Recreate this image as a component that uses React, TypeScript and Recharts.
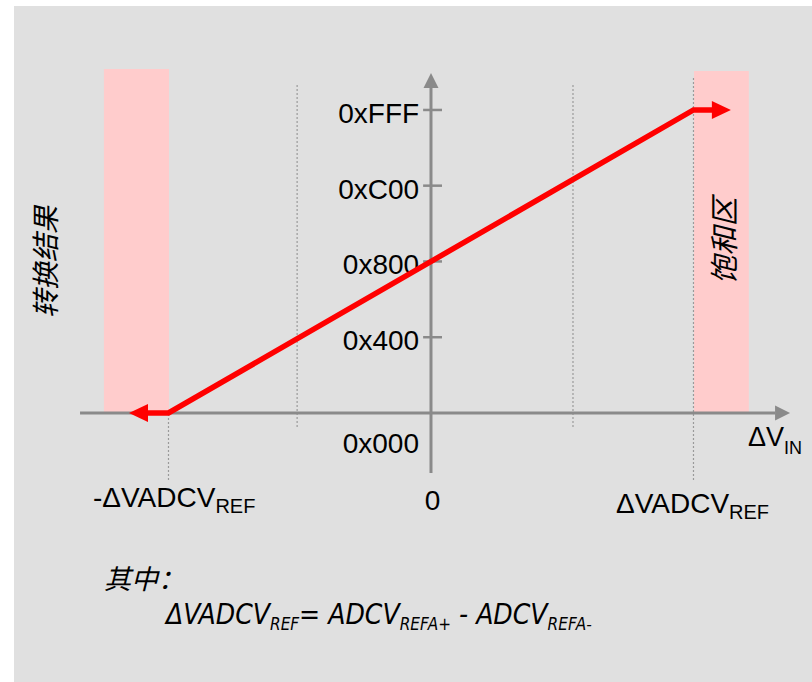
import { ComposedChart, XAxis, YAxis, Line, ReferenceArea, ReferenceLine, ReferenceDot } from "recharts";

// input voltage in units of ΔVADCV_REF, output code 0..0xFFF
const transfer = [
  { v: -1.082, code: 0 },
  { v: -1, code: 0 },
  { v: 1, code: 4095 },
  { v: 1.074, code: 4095 },
];

const satBands = [
  { from: -1.246, to: -0.998, top: 4650 },
  { from: 1.002, to: 1.211, top: 4620 },
];

const yTicks = [1024, 2048, 3072, 4095];
const yTickLabels = ["0x400", "0x800", "0xC00", "0xFFF"];

const xTicks = [-1, 0, 1];
const xTickMain = ["-ΔVADCV", "0", "ΔVADCV"];
const xTickSub = ["REF", "", "REF"];

// dotted guide lines: x, bottom code, top code
const guides = [
  { x: -1, y1: -905, y2: 0 },
  { x: -0.51, y1: -189, y2: 4459 },
  { x: 0.541, y1: -189, y2: 4459 },
  { x: 1, y1: -905, y2: 4527 },
];

// formula pieces: text, subscript?
const formula = [
  { t: "ΔVADCV", sub: false },
  { t: "REF", sub: true },
  { t: "= ADCV", sub: false },
  { t: "REFA+", sub: true },
  { t: " - ADCV", sub: false },
  { t: "REFA-", sub: true },
];

const AXIS = "#8a8a8a";
const RED = "#ff0000";
const SANS = "'Liberation Sans', Arial, sans-serif";
const CJK = "'Noto Sans CJK SC', sans-serif";
const NARROW = "'Liberation Sans Narrow', 'DejaVu Sans Condensed', sans-serif";

const ArrowLine = (p: any) => {
  const { x1, y1, x2, y2, stroke } = p;
  const dx = x2 - x1;
  const dy = y2 - y1;
  const len = Math.hypot(dx, dy) || 1;
  const ux = dx / len;
  const uy = dy / len;
  const bx = x2 - ux * 15;
  const by = y2 - uy * 15;
  const nx = -uy * 7.5;
  const ny = ux * 7.5;
  return (
    <g>
      <line x1={x1} y1={y1} x2={bx} y2={by} stroke={stroke} strokeWidth={3} />
      <polygon points={`${x2},${y2} ${bx + nx},${by + ny} ${bx - nx},${by - ny}`} fill={stroke} />
    </g>
  );
};

const tickShape = (label: string) => (p: any) => (
  <g>
    <line x1={p.x1} y1={p.y1} x2={p.x2} y2={p.y2} stroke={AXIS} strokeWidth={2.5} />
    <text x={p.x1 - 4} y={p.y1 + 13} textAnchor="end" fontSize={28} fontFamily={SANS} fill="#000">
      {label}
    </text>
  </g>
);

// arrow heads at both ends of the transfer curve
const ArrowDot = (p: any) => {
  const { cx, cy, index } = p;
  if (index === 0) {
    return <polygon key="a0" points={`${cx - 18},${cy} ${cx + 1},${cy - 9} ${cx + 1},${cy + 9}`} fill={RED} />;
  }
  if (index === transfer.length - 1) {
    return <polygon key="a1" points={`${cx + 18},${cy} ${cx - 1},${cy - 9} ${cx - 1},${cy + 9}`} fill={RED} />;
  }
  return <g key={"d" + index} />;
};

const xLabelShape = (i: number) => (p: any) => {
  const { cx, cy } = p;
  if (!xTickSub[i]) {
    return (
      <text x={cx + 1.5} y={cy + 97} textAnchor="middle" fontSize={28} fontFamily={SANS} fill="#000">
        {xTickMain[i]}
      </text>
    );
  }
  const left = i === 0;
  return (
    <text x={cx + (left ? -75.5 : -77.5)} y={cy + (left ? 94 : 100)} fontSize={28} fontFamily={SANS} fill="#000">
      <tspan>{xTickMain[i]}</tspan>
      <tspan dy={6} fontSize={20}>{xTickSub[i]}</tspan>
    </text>
  );
};

export default function App() {
  return (
    <div style={{ position: "absolute", left: 0, top: 0, width: 812, height: 682, overflow: "hidden", background: "#fff" }}>
      <div style={{ position: "absolute", left: 14, top: 6, width: 798, height: 676, background: "#e0e0e0" }} />
      <div style={{ position: "absolute", left: 0, top: 0 }}>
        <ComposedChart width={812} height={682} margin={{ top: 43, right: 0.4, bottom: 195, left: 37.25 }}>
          <XAxis hide type="number" dataKey="v" domain={[-1.5, 1.45]} allowDataOverflow />
          <YAxis hide type="number" domain={[-1000, 5000]} allowDataOverflow />

          {satBands.map((b, i) => (
            <ReferenceArea key={"sat" + i} x1={b.from} x2={b.to} y1={0} y2={b.top} fill="#ffcccc" fillOpacity={1} stroke="none" />
          ))}

          {guides.map((g, i) => (
            <ReferenceLine
              key={"g" + i}
              segment={[{ x: g.x, y: g.y1 }, { x: g.x, y: g.y2 }]}
              stroke="#9a9a9a"
              strokeWidth={1.2}
              strokeDasharray="2 2"
            />
          ))}

          <ReferenceLine segment={[{ x: -1.337, y: 0 }, { x: 1.368, y: 0 }]} stroke={AXIS} shape={ArrowLine} />
          <ReferenceLine segment={[{ x: 0, y: -811 }, { x: 0, y: 4595 }]} stroke={AXIS} shape={ArrowLine} />

          {yTicks.map((t, i) => (
            <ReferenceLine
              key={"yt" + i}
              segment={[{ x: -0.03, y: t }, { x: 0.042, y: t }]}
              stroke={AXIS}
              shape={tickShape(yTickLabels[i])}
            />
          ))}

          <ReferenceDot
            x={0}
            y={0}
            r={0}
            shape={(p: any) => (
              <text x={p.cx - 12} y={p.cy + 40} textAnchor="end" fontSize={28} fontFamily={SANS} fill="#000">
                0x000
              </text>
            )}
          />

          {xTicks.map((x, i) => (
            <ReferenceDot key={"xl" + i} x={x} y={0} r={0} shape={xLabelShape(i)} />
          ))}

          <ReferenceDot
            x={1.368}
            y={0}
            r={0}
            shape={(p: any) => (
              <text x={p.cx - 42} y={p.cy + 33} fontSize={27} fontFamily={SANS} fill="#000">
                <tspan>ΔV</tspan>
                <tspan dy={8} fontSize={18}>IN</tspan>
              </text>
            )}
          />

          <Line
            data={transfer}
            dataKey="code"
            type="linear"
            stroke={RED}
            strokeWidth={5.5}
            dot={ArrowDot}
            activeDot={false}
            isAnimationActive={false}
          />
        </ComposedChart>
      </div>

      <svg width={812} height={682} style={{ position: "absolute", left: 0, top: 0, pointerEvents: "none" }}>
        <text
          x={44}
          y={262}
          transform="rotate(-90 44 262)"
          textAnchor="middle"
          dominantBaseline="central"
          fontSize={28}
          fontStyle="italic"
          fontFamily={CJK}
          fill="#000"
        >
          转换结果
        </text>
        <text
          x={722}
          y={241}
          transform="rotate(-90 722 241)"
          textAnchor="middle"
          dominantBaseline="central"
          fontSize={29}
          fontStyle="italic"
          fontFamily={CJK}
          fill="#000"
        >
          饱和区
        </text>
        <text x={104} y={589} fontSize={27} fontStyle="italic" fontFamily={CJK} fill="#000">
          其中：
        </text>
        <text x={166} y={624} fontSize={28} fontStyle="italic" fontFamily={NARROW} fill="#000" xmlSpace="preserve">
          {formula.map((f, i) => (
            <tspan key={"f" + i} dy={f.sub ? 6 : i === 0 ? 0 : -6} fontSize={f.sub ? 17 : 28}>
              {f.t}
            </tspan>
          ))}
        </text>
      </svg>
    </div>
  );
}
